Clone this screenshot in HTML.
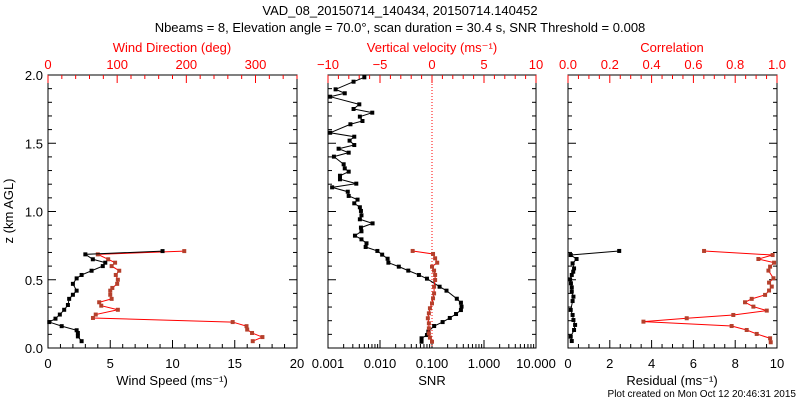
<!DOCTYPE html>
<html><head><meta charset="utf-8"><style>
body{margin:0;background:#fff}
svg{display:block;font-family:"Liberation Sans",sans-serif}
</style></head><body>
<svg id="c" width="800" height="400" xmlns="http://www.w3.org/2000/svg">
<text x="400" y="15" font-size="13" text-anchor="middle">VAD_08_20150714_140434, 20150714.140452</text>
<text x="400" y="32" font-size="13" text-anchor="middle">Nbeams = 8, Elevation angle = 70.0°, scan duration = 30.4 s, SNR Threshold = 0.008</text>
<text x="13" y="211" font-size="13" text-anchor="middle" transform="rotate(-90 13 211)">z (km AGL)</text>
<text x="796" y="397" font-size="10" text-anchor="end">Plot created on Mon Oct 12 20:46:31 2015</text>
</svg>
<script>
// Panel 1: wind speed (black) and direction (red)
const speedZ=[0.71,0.686,0.65,0.625,0.60,0.566,0.535,0.51,0.47,0.42,0.39,0.36,0.315,0.28,0.245,0.215,0.19,0.16,0.13,0.11,0.085,0.05];
const speedVals=[9.2,3.0,3.6,4.6,4.4,3.5,2.7,2.3,2.0,2.3,2.0,1.7,1.6,1.3,0.95,0.6,0.1,1.1,2.3,2.4,2.4,2.7];
const dirZ=[0.71,0.686,0.65,0.625,0.60,0.566,0.535,0.50,0.47,0.44,0.42,0.39,0.36,0.335,0.31,0.28,0.245,0.22,0.19,0.16,0.135,0.11,0.08,0.05];
const dirVals=[197,72,87,97,92,103,98,101,100,93,90,90,92,74,77,101,69,65,267,287,288,295,310,296];
// Panel 2: SNR (black) and vertical velocity (red)
const snrZ=[1.983,1.951,1.895,1.866,1.841,1.785,1.751,1.724,1.695,1.663,1.639,1.577,1.548,1.519,1.487,1.460,1.431,1.402,1.346,1.316,1.292,1.262,1.236,1.204,1.177,1.145,1.114,1.087,1.060,1.031,1.004,0.972,0.943,0.913,0.882,0.855,0.823,0.796,0.767,0.740,0.711,0.684,0.654,0.625,0.596,0.567,0.535,0.508,0.449,0.420,0.361,0.332,0.303,0.278,0.249,0.220,0.190,0.161,0.120,0.095,0.071,0.046];
const snrVals=[0.0050,0.0031,0.0014,0.0021,0.0011,0.0040,0.0031,0.0071,0.0041,0.0046,0.0027,0.0011,0.0032,0.0026,0.0032,0.0016,0.0025,0.0013,0.0020,0.0021,0.0025,0.0017,0.0017,0.0035,0.0012,0.0024,0.0025,0.0037,0.0032,0.0041,0.0043,0.0044,0.0041,0.0072,0.0043,0.0044,0.0033,0.0044,0.0055,0.0053,0.0089,0.011,0.014,0.0145,0.023,0.035,0.056,0.080,0.14,0.19,0.30,0.36,0.37,0.36,0.29,0.22,0.16,0.11,0.085,0.080,0.063,0.063];
const velZ=[0.711,0.689,0.657,0.625,0.596,0.567,0.535,0.498,0.449,0.400,0.364,0.327,0.291,0.254,0.218,0.181,0.144,0.107,0.076,0.046];
const velVals=[-1.86,0.1,0.3,0.5,0,0.2,0.3,0.3,0.2,0.2,0.1,0,-0.2,-0.3,-0.4,-0.3,-0.3,-0.3,-0.2,0];
// Panel 3: residual (black) and correlation (red)
const resZ=[0.711,0.681,0.652,0.620,0.583,0.559,0.535,0.503,0.474,0.444,0.413,0.376,0.344,0.279,0.242,0.205,0.169,0.132,0.083,0.051];
const resVals=[2.45,0.13,0.41,0.22,0.29,0.25,0.18,0.10,0.14,0.18,0.18,0.26,0.22,0.13,0.22,0.26,0.34,0.29,0.13,0.18];
const corrZ=[0.711,0.681,0.652,0.625,0.596,0.567,0.511,0.479,0.450,0.421,0.389,0.360,0.335,0.303,0.274,0.242,0.218,0.193,0.161,0.132,0.103,0.071,0.042];
const corrVals=[0.651,0.979,0.911,0.986,0.967,0.959,0.983,0.962,0.975,0.962,0.943,0.879,0.847,0.887,0.951,0.791,0.568,0.361,0.783,0.855,0.903,0.967,0.970];
const zTicks=["0.0","0.5","1.0","1.5","2.0"];
const speedTicks=["0","5","10","15","20"];
const dirTicks=["0","100","200","300"];
const snrTicks=["0.001","0.010","0.100","1.000","10.000"];
const velTicks=["−10","−5","0","5","10"];
const resTicks=["0","2","4","6","8","10"];
const corrTicks=["0.0","0.2","0.4","0.6","0.8","1.0"];

const svg=document.getElementById('c');
const NS='http://www.w3.org/2000/svg';
const Y0=348,Y1=75;
function zy(z){return Y0-(z/2)*(Y0-Y1);}
function mk(tag,at,parent){const e=document.createElementNS(NS,tag);for(const k in at)e.setAttribute(k,at[k]);(parent||svg).appendChild(e);return e;}
function line(x1,y1,x2,y2,col,g){return mk('line',{x1,y1,x2,y2,stroke:col,'stroke-width':1},g);}
function txt(x,y,s,col,g,size){const t=mk('text',{x,y,'font-size':size||13,'text-anchor':'middle',fill:col},g);t.textContent=s;return t;}

function panel(name,L,R,showZ){
  const g=mk('g',{});
  
  
  const r=mk('rect',{x:L,y:Y1,width:R-L,height:Y0-Y1,fill:'none',stroke:'#000','stroke-width':1},g);
  
  
  for(let i=0;i<=20;i++){const y=zy(i*0.1);const len=i%5==0?8:4;line(L,y,L+len,y,'#000',g);line(R,y,R-len,y,'#000',g);}
  if(showZ){zTicks.forEach(s=>{const t=txt(L-5,zy(+s)+5,s,'#000',g);t.setAttribute('text-anchor','end');});}
  return g;
}
function linAxis(g,L,R,min,max,labels,step,minor,top,col,name){
  const sx=v=>L+(v-min)/(max-min)*(R-L);
  const y=top?Y1:Y0, d=top?1:-1;
  for(let v=min;v<=max+1e-9;v+=minor){const isMaj=Math.abs(Math.round((v-min)/step)*step-(v-min))<1e-6;line(sx(v),y,sx(v),y+d*(isMaj?8:4),col,g);}
  labels.forEach((s,i)=>{const v=min+i*step;const t=txt(sx(v),top?Y1-6:Y0+20,s,col,g);});
  return sx;
}
function series(g,xs,zs,sx,lineCol,markCol,name){
  const pts=xs.map((v,i)=>[sx(v),zy(zs[i])]);
  const p=mk('polyline',{points:pts.map(p=>p.join(',')).join(' '),fill:'none',stroke:lineCol,'stroke-width':1},g);
  
  
  pts.forEach(q=>{const c=mk('rect',{x:q[0]-2,y:q[1]-2,width:4,height:4,fill:markCol},g);
    
    });
}
// panel 1
let g=panel('wind',48,297,true);
const sxS=linAxis(g,48,297,0,20,speedTicks,5,1,false,'#000','speed');
const sxD=linAxis(g,48,297,0,360,dirTicks,100,20,true,'#f00','direction');
series(g,dirVals,dirZ,sxD,'#f00','#b5402c','direction');
series(g,speedVals,speedZ,sxS,'#000','#000','speed');
let t=txt(172,385,'Wind Speed (ms⁻¹)','#000',g);
t=txt(172,52,'Wind Direction (deg)','#f00',g);
// panel 2
g=panel('snr',328,536,false);
const sxV=linAxis(g,328,536,-10,10,velTicks,5,1,true,'#f00','velocity');
const lsx=v=>328+(Math.log10(v)+3)/4*208;
for(let d=-3;d<=1;d++){for(let m=1;m<=9;m++){const v=m*Math.pow(10,d);if(v>10.0001)break;const x=lsx(v);line(x,Y0,x,Y0-(m==1?8:4),'#000',g);}}
snrTicks.forEach(s=>{const tt=txt(lsx(+s),Y0+20,s,'#000',g);});
const zl=line(sxV(0),Y1,sxV(0),Y0,'#f00',g);zl.setAttribute('stroke-dasharray','1,2');


series(g,snrVals,snrZ,lsx,'#000','#000','snr');
series(g,velVals,velZ,sxV,'#f00','#b5402c','velocity');
t=txt(432,385,'SNR','#000',g);
t=txt(432,52,'Vertical velocity (ms⁻¹)','#f00',g);
// panel 3
g=panel('residual',568,777,false);
const sxR=linAxis(g,568,777,0,10,resTicks,2,0.5,false,'#000','residual');
const sxC=linAxis(g,568,777,0,1,corrTicks,0.2,0.05,true,'#f00','correlation');
series(g,corrVals,corrZ,sxC,'#f00','#b5402c','correlation');
series(g,resVals,resZ,sxR,'#000','#000','residual');
t=txt(672,385,'Residual (ms⁻¹)','#000',g);
t=txt(672,52,'Correlation','#f00',g);
</script>
</body></html>
